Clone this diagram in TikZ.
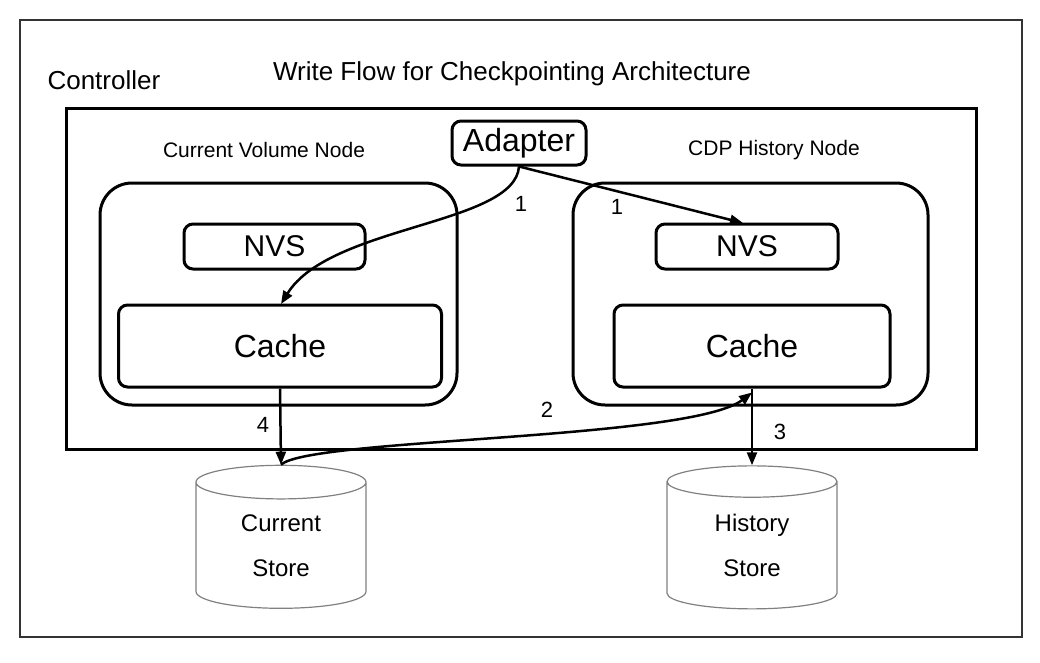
\documentclass[tikz,border=0pt]{standalone}
\usepackage{fontspec}
\setmainfont{Liberation Sans}
\usetikzlibrary{arrows.meta,shapes.geometric}
\begin{document}
\begin{tikzpicture}[x=1pt,y=-1pt,
  box/.style={draw, line width=3pt, rounded corners=9pt, inner sep=0pt},
  nodebox/.style={draw, line width=3pt, rounded corners=32pt},
  store/.style={draw=black!50, line width=1.2pt, cylinder, shape border rotate=90, aspect=0.42,
    minimum width=170pt, minimum height=143pt, inner sep=0pt, align=center,
    font=\fontsize{24}{45}\selectfont},
  flow/.style={line width=2.5pt, -{Triangle[length=13pt,width=10pt]}},
  num/.style={font=\fontsize{22}{26}\selectfont}]
\useasboundingbox (0,0) rectangle (1040,662);
\draw[line width=2pt, gray!40!black] (20,20) rectangle (1022,637);
\node[anchor=west, font=\fontsize{26}{30}\selectfont] (ctrl) at (44,80) {Controller};
\node[font=\fontsize{26}{30}\selectfont] (title) at (512,74) {Write Flow for Checkpointing Architecture};
\draw[line width=3pt] (66,108) rectangle (976,449);

\node[box, minimum width=134pt, minimum height=44pt, font=\fontsize{32}{36}\selectfont] (adapter) at (519,143) {Adapter};
\node[font=\fontsize{21}{24}\selectfont] (curlbl) at (264,150) {Current Volume Node};
\node[font=\fontsize{21}{24}\selectfont] (histlbl) at (774,150) {CDP History Node};

\draw[nodebox] (100,183) rectangle (457,405);
\draw[nodebox] (573,183) rectangle (928,405);

\node[box, minimum width=181pt, minimum height=45pt, font=\fontsize{30}{34}\selectfont] (cnvs) at (274.5,246.5) {NVS};
\node[box, minimum width=182pt, minimum height=45pt, font=\fontsize{30}{34}\selectfont] (hnvs) at (747,246.5) {NVS};
\node[box, minimum width=323pt, minimum height=82pt, font=\fontsize{32}{36}\selectfont] (ccache) at (280,346) {Cache};
\node[box, minimum width=276pt, minimum height=82pt, font=\fontsize{32}{36}\selectfont] (hcache) at (752,346) {Cache};

\node[store] (cstore) at (281,545.5) {Current\\Store};
\node[store] (hstore) at (752,545.5) {History\\Store};

\coordinate (hnvsin) at (743,223);
\coordinate (cachein) at (281,304);
\draw[flow] (adapter.south) .. controls (515,225) and (330,225) .. (cachein);
\draw[flow] (adapter.south) -- (hnvsin);
\draw[flow] (ccache.south) -- (cstore.north);
\draw[flow] (hcache.south) -- (hstore.north);
\draw[flow] (cstore.north) .. controls (310,438) and (690,440) .. ([yshift=-4pt]hcache.south);

\node[num] (n1a) at (521,204) {1};
\node[num] (n1b) at (617,207) {1};
\node[num] (n2) at (547,410) {2};
\node[num] (n3) at (780,432) {3};
\node[num] (n4) at (263,425) {4};
\end{tikzpicture}
\end{document}
